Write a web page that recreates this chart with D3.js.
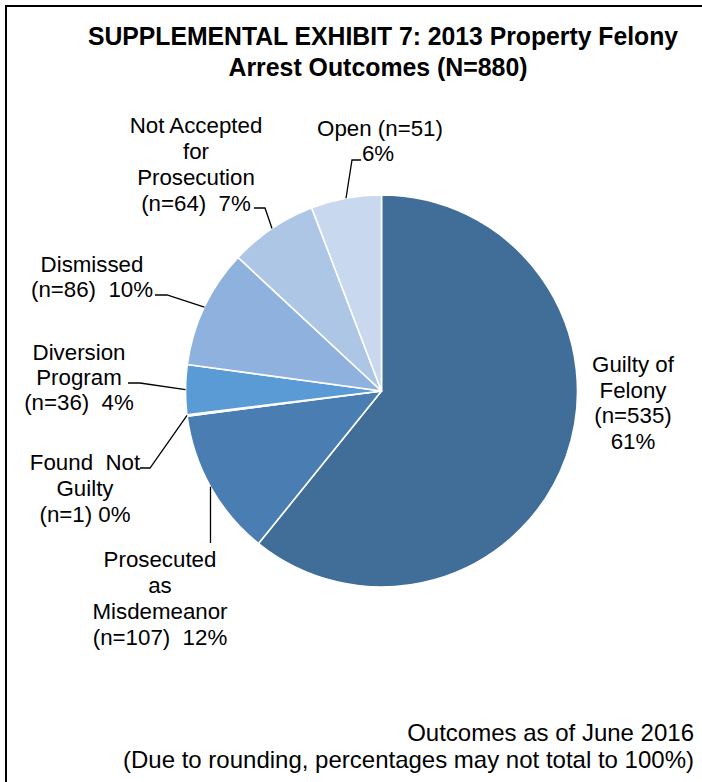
<!DOCTYPE html>
<html>
<head>
<meta charset="utf-8">
<script src="https://cdn.jsdelivr.net/npm/d3@7"></script>
<style>
  html, body { margin: 0; padding: 0; background: #fff; }
  svg { display: block; font-family: "Liberation Sans", Arial, sans-serif; }
</style>
</head>
<body>
<svg id="chart" width="702" height="782"></svg>
<script>
// ---- data ----
const categories = ["Guilty of Felony", "Prosecuted as Misdemeanor", "Found Not Guilty",
  "Diversion Program", "Dismissed", "Not Accepted for Prosecution", "Open"];
const counts = [535, 107, 1, 36, 86, 64, 51];
const titleLines = ["SUPPLEMENTAL EXHIBIT 7: 2013 Property Felony", "Arrest Outcomes (N=880)"];
const footnoteLines = ["Outcomes as of June 2016", "(Due to rounding, percentages may not total to 100%)"];
// label text lines ({n} and {p} are filled from the data)
const labelTemplates = [
  ["Guilty of", "Felony", "(n={n})", "{p}"],
  ["Prosecuted", "as", "Misdemeanor", "(n={n})  {p}"],
  ["Found  Not", "Guilty", "(n={n}) {p}"],
  ["Diversion", "Program", "(n={n})  {p}"],
  ["Dismissed", "(n={n})  {p}"],
  ["Not Accepted", "for", "Prosecution", "(n={n})  {p}"],
  ["Open (n={n})", "{p}"]
];

// ---- styles / layout ----
const colors = ["#416E99", "#4A7EB2", "#5089C6", "#5B9BD5", "#8EB1DD", "#AEC6E6", "#C8D8EE"];
const W = 702, H = 782;
const cx = 381.5, cy = 391, R = 196;
const labelLayout = [
  { x: 633, y: 372, lh: 25.5, xs: null, leader: null },
  { x: 160, y: 567, lh: 26, leader: [[210.5, 543]] },
  { x: 85, y: 470, lh: 26, leader: [[150, 468], [140, 468]] },
  { x: 79, y: 360, lh: 25, leader: [[140, 383], [128, 383]] },
  { x: 92, y: 272, lh: 25, leader: [[167, 295], [155, 295]] },
  { x: 196, y: 133, lh: 26, leader: [[265, 208], [254, 208]] },
  { x: 380, y: 136, lh: 25, xs: [380, 378], leader: [[352, 160], [361, 160]] }
];

const svg = d3.select("#chart");
const total = d3.sum(counts);
const fmtPct = d3.format(".0%");

// frame
svg.append("rect").attr("x", 6).attr("y", 6).attr("width", 720).attr("height", 800)
  .attr("fill", "none").attr("stroke", "#000").attr("stroke-width", 2);

// title
const title = svg.append("text").attr("text-anchor", "middle")
  .attr("font-weight", "bold").attr("font-size", 25).attr("fill", "#000");
title.append("tspan").attr("x", 383).attr("y", 45).text(titleLines[0])
  .attr("textLength", 590).attr("lengthAdjust", "spacingAndGlyphs");
title.append("tspan").attr("x", 378).attr("y", 76).text(titleLines[1])
  .attr("textLength", 299).attr("lengthAdjust", "spacingAndGlyphs");

// pie
const pie = d3.pie().sort(null).value(d => d).startAngle(0).endAngle(2 * Math.PI);
const arcs = pie(counts);
const arc = d3.arc().innerRadius(0).outerRadius(R);
const edge = d3.arc().innerRadius(R).outerRadius(R);

const g = svg.append("g").attr("transform", `translate(${cx},${cy})`);
g.selectAll("path.slice").data(arcs).join("path")
  .attr("class", "slice")
  .attr("d", arc)
  .attr("fill", (d, i) => colors[i])
  .attr("stroke", "#fff").attr("stroke-width", 1.6).attr("stroke-linejoin", "round");

// leader lines
arcs.forEach((d, i) => {
  const L = labelLayout[i];
  if (!L.leader) return;
  const c = edge.centroid(d);
  const pts = [[cx + c[0], cy + c[1]], ...L.leader];
  svg.append("path").attr("d", d3.line()(pts))
    .attr("fill", "none").attr("stroke", "#000").attr("stroke-width", 1.3);
});

// labels
arcs.forEach((d, i) => {
  const L = labelLayout[i];
  const pct = fmtPct(counts[i] / total);
  const lines = labelTemplates[i].map(s => s.replace("{n}", counts[i]).replace("{p}", pct));
  const t = svg.append("text").attr("text-anchor", "middle")
    .attr("font-size", 22.3).attr("fill", "#000").style("white-space", "pre");
  lines.forEach((s, k) => {
    t.append("tspan").attr("x", L.xs ? L.xs[k] : L.x).attr("y", L.y + k * L.lh).text(s);
  });
});

// footnote
const foot = svg.append("text").attr("text-anchor", "end").attr("font-size", 24).attr("fill", "#000");
footnoteLines.forEach((s, k) => {
  foot.append("tspan").attr("x", 694).attr("y", 741 + k * 27).text(s);
});
</script>
</body>
</html>
